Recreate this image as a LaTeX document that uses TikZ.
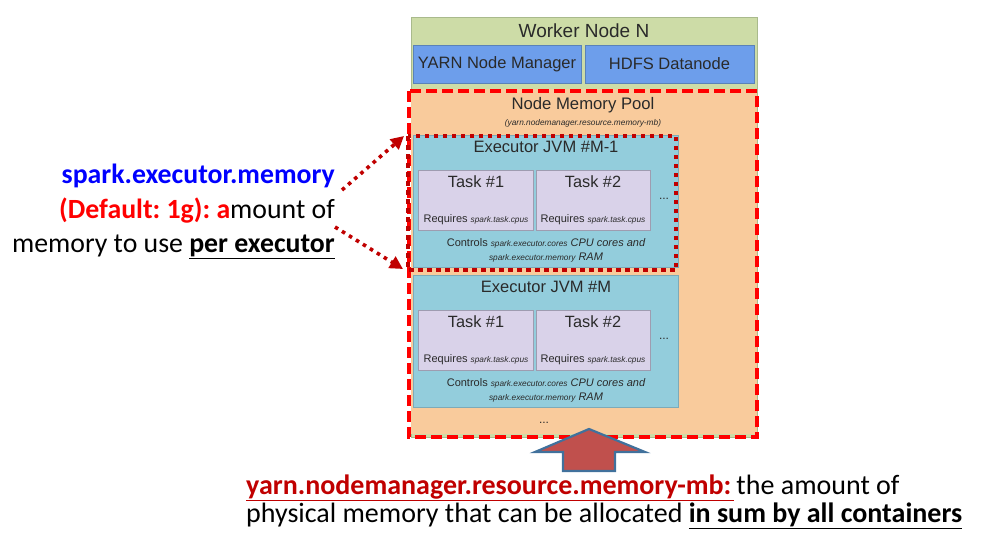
\documentclass[tikz,border=0pt]{standalone}
\usepackage{fontspec}
\setmainfont{Carlito}
\newfontfamily\arialf{Liberation Sans}
\usetikzlibrary{arrows.meta}
\definecolor{wgreen}{HTML}{CDDCA7}
\definecolor{wgreenb}{HTML}{A9BA8C}
\definecolor{yblue}{HTML}{6D9EEB}
\definecolor{ybluebd}{HTML}{5A82B8}
\definecolor{porange}{HTML}{F9CB9C}
\definecolor{eteal}{HTML}{93CDDC}
\definecolor{etealbd}{HTML}{7DAAB8}
\definecolor{tlav}{HTML}{D9D2E9}
\definecolor{tlavbd}{HTML}{9E9CB0}
\definecolor{dred}{HTML}{C00000}
\definecolor{arrfill}{HTML}{C0504D}
\definecolor{arrbd}{HTML}{41719C}
\definecolor{boxtxt}{HTML}{2A2A2A}
\frenchspacing
\begin{document}
\begin{tikzpicture}[x=1pt,y=-1pt,
  rbox/.style={draw, anchor=north west, inner sep=0pt, outer sep=0pt, line width=0.7pt},
  btxt/.style={text=boxtxt, inner sep=0pt, font=\arialf},
  side/.style={inner sep=0pt, font=\fontsize{27.8}{34.5}\selectfont, align=right},
  bottomtxt/.style={inner sep=0pt, font=\fontsize{28}{27}\selectfont, align=left},
  dotarrow/.style={draw=dred, line width=3.6pt, dash pattern=on 3.6pt off 4.6pt, -{Triangle[length=13pt,width=13pt]}}
]
\useasboundingbox (0,0) rectangle (989,549);
% worker node
\node[rbox, fill=wgreen, draw=wgreenb, minimum width=346pt, minimum height=420pt] (worker) at (411,17) {};
\node[btxt, font=\arialf\fontsize{19}{19}\selectfont] (wtitle) at (584,31) {Worker Node N};
\node[rbox, fill=yblue, draw=ybluebd, minimum width=168pt, minimum height=38pt] (yarn) at (413,45) {};
\node[btxt, font=\arialf\fontsize{16.5}{16.5}\selectfont] at (yarn.center) {YARN Node Manager};
\node[rbox, fill=yblue, draw=ybluebd, minimum width=169pt, minimum height=38pt] (hdfs) at (585,45) {};
\node[btxt, font=\arialf\fontsize{16.5}{16.5}\selectfont] at (hdfs.center) {HDFS Datanode};
% memory pool
\node[rbox, fill=porange, draw=none, minimum width=346pt, minimum height=345pt] (pool) at (411,89) {};
\node[btxt, font=\arialf\fontsize{16.7}{16.7}\selectfont] (ptitle) at (583,105) {Node Memory Pool};
\node[btxt, font=\arialf\itshape\fontsize{8.3}{8.3}\selectfont] (psub) at (583,123) {(yarn.nodemanager.resource.memory-mb)};
% executors
\foreach \n/\y/\t in {a/135/{Executor JVM \#M-1}, b/275/{Executor JVM \#M}}{
  \node[rbox, fill=eteal, draw=etealbd, minimum width=265pt, minimum height=132pt] (exec\n) at (413,\y) {};
  \node[btxt, font=\arialf\fontsize{16.5}{16.5}\selectfont] (exec\n title) at (546,\y+12) {\t};
  \node[rbox, fill=tlav, draw=tlavbd, minimum width=115pt, minimum height=60pt] (task\n1) at (418,\y+35) {};
  \node[rbox, fill=tlav, draw=tlavbd, minimum width=114pt, minimum height=60pt] (task\n2) at (536,\y+35) {};
  \node[btxt, font=\arialf\fontsize{16.3}{16.3}\selectfont] at (476,\y+47) {Task \#1};
  \node[btxt, font=\arialf\fontsize{16.3}{16.3}\selectfont] at (593,\y+47) {Task \#2};
  \node[btxt, font=\arialf\fontsize{11}{11}\selectfont] at (476,\y+85) {Requires {\itshape\fontsize{8.3}{8.3}\selectfont spark.task.cpus}};
  \node[btxt, font=\arialf\fontsize{11}{11}\selectfont] at (593,\y+85) {Requires {\itshape\fontsize{8.3}{8.3}\selectfont spark.task.cpus}};
  \node[btxt, font=\arialf\fontsize{12}{12}\selectfont] at (664,\y+64) {...};
  \node[btxt, font=\arialf\fontsize{11}{11}\selectfont] at (546,\y+108) {Controls {\itshape\fontsize{8.3}{8.3}\selectfont spark.executor.cores} {\itshape CPU cores and}};
  \node[btxt, font=\arialf\fontsize{11}{11}\selectfont] at (546,\y+123) {{\itshape\fontsize{8.3}{8.3}\selectfont spark.executor.memory} {\itshape RAM}};
}
\node[btxt, font=\arialf\fontsize{12}{12}\selectfont] (pooldots) at (544,423) {...};
% red borders
\draw[red, line width=4pt, dash pattern=on 11pt off 5pt] (409,91) rectangle (757,437);
\draw[dred, line width=4.5pt, dash pattern=on 4.5pt off 4.5pt] (408,136) rectangle (676,270);
\coordinate (atop) at (404,136);
\coordinate (abot) at (403,269);
% left text
\node[side, anchor=north east] (sidetxt) at (335,164) {\textbf{\color{blue}spark.executor.memory}\\
{\bfseries\color{red}(Default: 1g): a}mount of\\
memory to use \textbf{\underline{per executor}}};
\coordinate (s1) at (342,190);
\coordinate (s2) at (335,227);
\draw[dotarrow] (s1) -- (atop);
\draw[dotarrow] (s2) -- (abot);
% big arrow
\draw[fill=arrfill, draw=arrbd, line width=2.2pt, line join=miter]
  (589,429) -- (645,452) -- (615,452) -- (615,471) -- (563,471) -- (563,452) -- (535,452) -- cycle;
% bottom text
\node[bottomtxt, anchor=base west] (bt1) at (246,494) {\textbf{\color{dred}\underline{yarn.nodemanager.resource.memory-mb:\kern3pt}}\kern2pt the amount of};
\node[bottomtxt, anchor=base west] (bt2) at (246,522) {physical memory that can be allocated \textbf{\underline{in sum by all containers}}};
\end{tikzpicture}
\end{document}
